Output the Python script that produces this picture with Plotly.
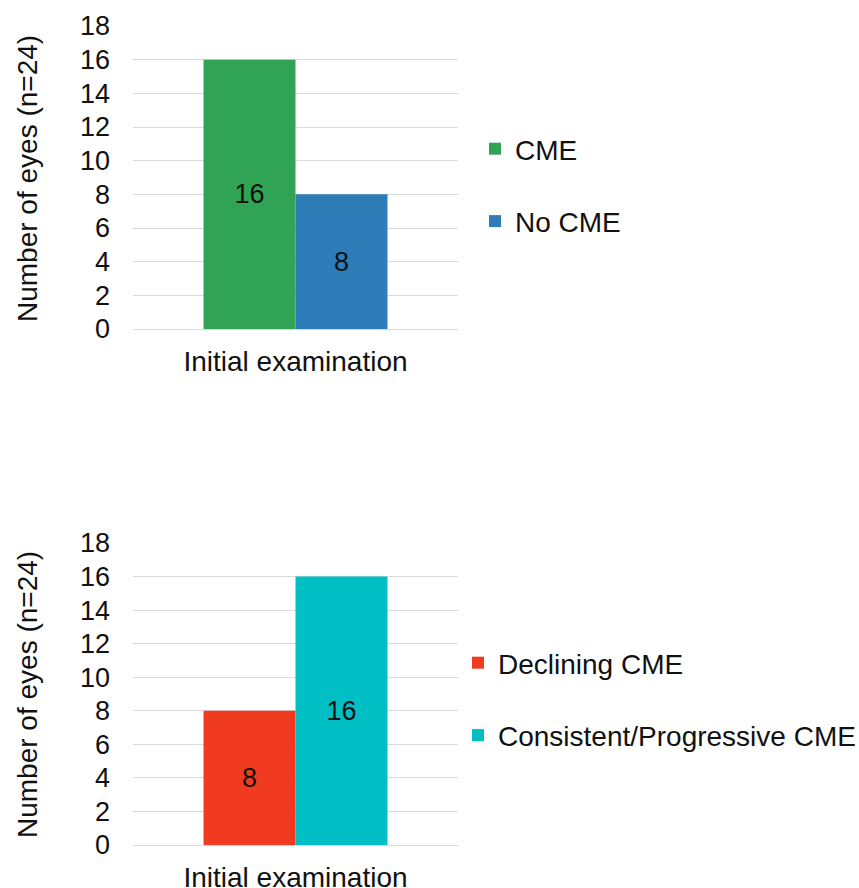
import plotly.graph_objects as go

# Data
category = ["Initial examination"]
top_names = ["CME", "No CME"]
top_values = [16, 8]
top_colors = ["#31a354", "#2e7db8"]

bottom_names = ["Declining CME", "Consistent/Progressive CME"]
bottom_values = [8, 16]
bottom_colors = ["#f03b20", "#00bfc4"]

y_ticks = list(range(0, 20, 2))
y_title = "Number of eyes (n=24)"

W, H = 859, 888
FONT = "Liberation Sans, Arial, sans-serif"
FS = 27

fig = go.Figure()

for i, (name, val, col) in enumerate(zip(top_names, top_values, top_colors)):
    fig.add_trace(go.Bar(
        x=category, y=[val], name=name, marker=dict(color=col, line=dict(width=0)),
        text=[str(val)], textposition="inside", insidetextanchor="middle",
        textfont=dict(color="#111111", size=FS, family=FONT),
        xaxis="x", yaxis="y", legend="legend", legendgroup="t%d" % i,
    ))

for i, (name, val, col) in enumerate(zip(bottom_names, bottom_values, bottom_colors)):
    fig.add_trace(go.Bar(
        x=category, y=[val], name=name, marker=dict(color=col, line=dict(width=0)),
        text=[str(val)], textposition="inside", insidetextanchor="middle",
        textfont=dict(color="#111111", size=FS, family=FONT),
        xaxis="x2", yaxis="y2", legend="legend2", legendgroup="b%d" % i,
    ))

xdom = [133 / W, 458 / W]
top_dom = [1 - 329 / H, 1 - 26 / H]
bot_dom = [1 - 845 / H, 1 - 543 / H]

yax = dict(
    range=[0, 18], tickvals=y_ticks, showgrid=True, gridcolor="#d9d9d9", gridwidth=1.3,
    zeroline=True, zerolinecolor="#d9d9d9", zerolinewidth=1.3, showline=False,
    tickfont=dict(size=FS, color="#111111", family=FONT), ticklabelstandoff=22,
    automargin=False, fixedrange=True,
)
xax = dict(
    showline=False, showgrid=False, zeroline=False, range=[-0.5, 0.5],
    tickfont=dict(size=FS + 1, color="#111111", family=FONT), ticklabelstandoff=13,
    automargin=False, fixedrange=True,
)

legend_common = dict(
    font=dict(size=FS + 1, color="#111111", family=FONT), bgcolor="rgba(0,0,0,0)",
    borderwidth=0, tracegroupgap=33, itemwidth=30, xanchor="left", yanchor="middle",
    traceorder="grouped",
)

fig.update_layout(
    width=W, height=H, margin=dict(l=0, r=0, t=0, b=0, autoexpand=False),
    paper_bgcolor="white", plot_bgcolor="white",
    barmode="group", bargap=0.434, bargroupgap=0,
    font=dict(family=FONT, color="#111111"),
    xaxis=dict(domain=xdom, anchor="y", **xax),
    yaxis=dict(domain=top_dom, anchor="x", **yax),
    xaxis2=dict(domain=xdom, anchor="y2", **xax),
    yaxis2=dict(domain=bot_dom, anchor="x2", **yax),
    legend=dict(x=475 / W, y=1 - 185 / H, **legend_common),
    legend2=dict(x=458 / W, y=1 - 699 / H, **legend_common),
    showlegend=True,
    annotations=[
        dict(text=y_title, xref="paper", yref="paper", x=27 / W, y=1 - 179 / H,
             textangle=-90, showarrow=False, font=dict(size=FS + 1, color="#111111", family=FONT),
             xanchor="center", yanchor="middle"),
        dict(text=y_title, xref="paper", yref="paper", x=27 / W, y=1 - 695 / H,
             textangle=-90, showarrow=False, font=dict(size=FS + 1, color="#111111", family=FONT),
             xanchor="center", yanchor="middle"),
    ],
)

fig.write_html("out.html", config=dict(displayModeBar=False))
